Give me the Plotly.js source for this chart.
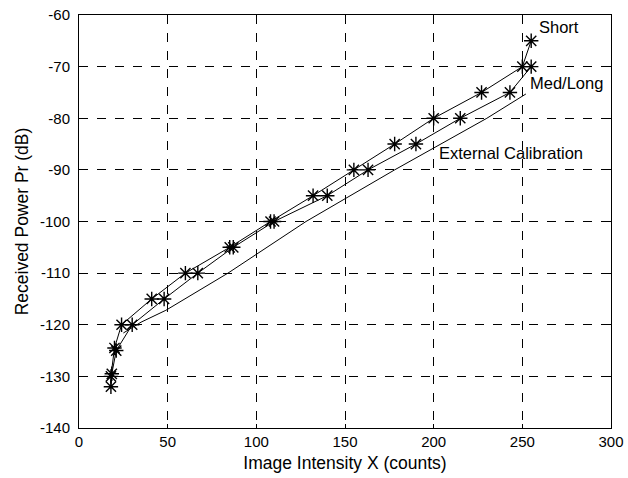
<!DOCTYPE html>
<html>
<head>
<meta charset="utf-8">
<script src="https://cdn.plot.ly/plotly-3.0.1.min.js"></script>
<style>html,body{margin:0;padding:0;background:#fff;}#chart{width:628px;height:478px;}</style>
</head>
<body>
<div id="chart"></div>
<script>
// Short range calibration
const shortX = [255, 250, 227, 200, 178, 155, 132, 108, 85, 60, 41, 24, 20, 18];
const shortY = [-65, -70, -75, -80, -85, -90, -95, -100, -105, -110, -115, -120, -124.5, -130];
// Med/Long range calibration
const medX = [255, 243, 215, 190, 163, 140, 110, 87, 67, 48, 30, 21, 18.5, 18];
const medY = [-70, -75, -80, -85, -90, -95, -100, -105, -110, -115, -120, -125, -129.5, -132];
// External calibration (line only)
const extX = [252, 230, 178, 128, 84, 49, 35, 25];
const extY = [-75.3, -80, -90, -100, -110, -117.2, -119.5, -121.6];

const xTicks = [0, 50, 100, 150, 200, 250, 300];
const yTicks = [-140, -130, -120, -110, -100, -90, -80, -70, -60];

const labelText = ['Short', 'Med/Long', 'External Calibration'];
const labelX = [258, 253, 202];
const labelY = [-62.3, -73.2, -86.7];

const FONT = 'Liberation Sans, Arial, sans-serif';

const mk = {symbol: 'asterisk-open', size: 12, color: '#000', line: {color: '#000', width: 1.4}};
const traces = [
  {x: shortX, y: shortY, mode: 'lines+markers', line: {color: '#000', width: 1}, marker: mk, name: 'Short'},
  {x: medX, y: medY, mode: 'lines+markers', line: {color: '#000', width: 1}, marker: mk, name: 'Med/Long'},
  {x: extX, y: extY, mode: 'lines', line: {color: '#000', width: 1}, name: 'External Calibration'}
];

const annotations = labelText.map((t, i) => ({
  x: labelX[i], y: labelY[i], xref: 'x', yref: 'y', text: t, showarrow: false,
  xanchor: 'left', yanchor: 'middle', font: {family: FONT, size: 16.5, color: '#000'}
}));

const axisCommon = {
  showline: true, linecolor: '#000', linewidth: 1, mirror: 'ticks',
  ticks: 'inside', ticklen: 4, tickcolor: '#000',
  showgrid: true, gridcolor: '#000', gridwidth: 1, griddash: 'dash',
  zeroline: false, tickfont: {family: FONT, size: 15, color: '#000'}
};

const layout = {
  width: 628, height: 478,
  margin: {l: 79, r: 17, t: 15, b: 50},
  paper_bgcolor: '#fff', plot_bgcolor: '#fff',
  showlegend: false,
  font: {family: FONT, color: '#000'},
  xaxis: Object.assign({}, axisCommon, {
    range: [0, 300], tickvals: xTicks, ticktext: xTicks.map(String),
    title: {text: 'Image Intensity X (counts)', font: {family: FONT, size: 17.5, color: '#000'}, standoff: 7}
  }),
  yaxis: Object.assign({}, axisCommon, {
    range: [-140, -60], tickvals: yTicks, ticktext: yTicks.map(String),
    ticklabelstandoff: 5,
    title: {text: 'Received Power Pr (dB)', font: {family: FONT, size: 17.5, color: '#000'}, standoff: 6}
  }),
  annotations: annotations
};

Plotly.newPlot('chart', traces, layout, {staticPlot: true, displayModeBar: false});
</script>
</body>
</html>
